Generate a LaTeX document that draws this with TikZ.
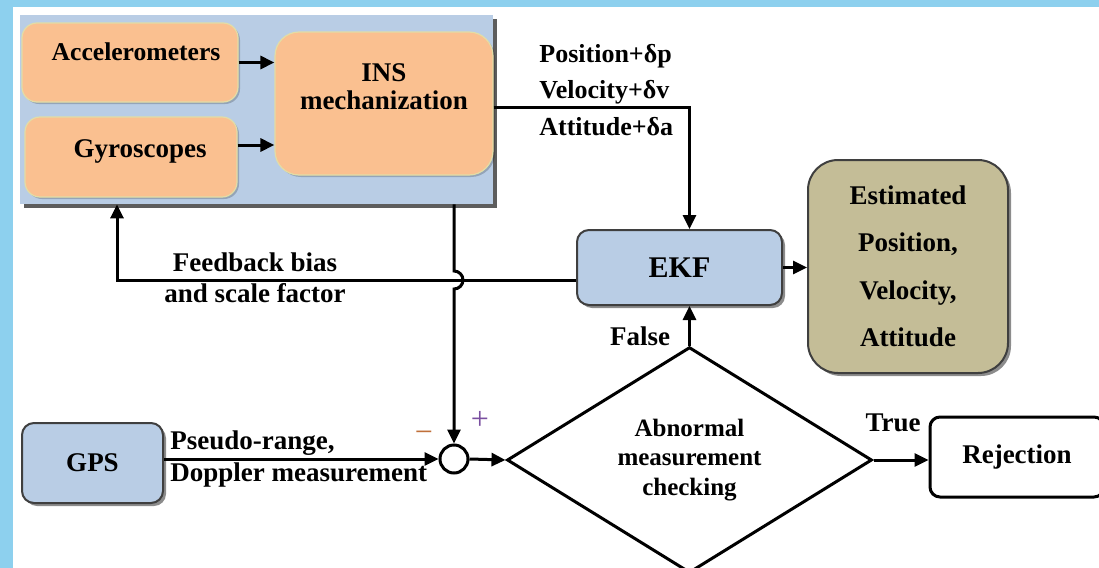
\documentclass[tikz,border=0pt]{standalone}
\usepackage{fontspec}
\setmainfont{Liberation Serif}[BoldFont={Liberation Serif Bold}]
\newfontfamily\tms{Liberation Serif}[BoldFont={Liberation Serif Bold}]
\usetikzlibrary{shapes.geometric,shadows,arrows.meta,calc}
\definecolor{bgblue}{HTML}{8DD0EE}
\definecolor{panelblue}{HTML}{B9CDE5}
\definecolor{boxorange}{HTML}{FAC090}
\definecolor{orangeedge}{HTML}{E2DDA6}
\definecolor{tanfill}{HTML}{C4BD97}
\definecolor{edgegray}{HTML}{3F3F3F}
\definecolor{minuscol}{HTML}{C0703A}
\definecolor{pluscol}{HTML}{7A4FA0}
\begin{document}
\begin{tikzpicture}[x=0.5pt,y=-0.5pt,
  txt/.style={font=\tms\fontsize{13.5}{16}\selectfont\bfseries, inner sep=0pt, text=black},
  dshadow/.style={drop shadow={shadow xshift=1.5pt,shadow yshift=-1.5pt,fill=black,opacity=0.45}},
  lshadow/.style={drop shadow={shadow xshift=1pt,shadow yshift=-1pt,fill=black,opacity=0.2}},
  panelbox/.style={fill=panelblue, draw=none, drop shadow={shadow xshift=2pt,shadow yshift=-2pt,fill=gray!60!black,opacity=0.9}},
  obox/.style={draw=orangeedge, line width=0.6pt, fill=boxorange, rounded corners=7.5pt, lshadow},
  bbox/.style={draw=edgegray, line width=1pt, fill=panelblue, rounded corners=6pt, dshadow},
  arr/.style={line width=1.5pt, -{Triangle[length=7pt,width=6.5pt]}},
]
\useasboundingbox (0,0) rectangle (1099,568);
\clip (0,0) rectangle (1099,568);
\fill[bgblue] (0,0) rectangle (1099,568);
\fill[white] (13,7) rectangle (1099,568);

% INS group
\node[panelbox, minimum width=236.5pt, minimum height=94.5pt] (panel) at (256.5,109.5) {};
\node[obox, minimum width=108pt, minimum height=39.5pt] (acc) at (130,62.5) {};
\node[txt, font=\tms\fontsize{12.8}{16}\selectfont\bfseries] (acctxt) at (136,52) {Accelerometers};
\node[obox, minimum width=106pt, minimum height=40pt] (gyro) at (131,157) {};
\node[txt] (gyrotxt) at (140,151) {Gyroscopes};
\node[obox, rounded corners=12pt, minimum width=109pt, minimum height=71.5pt] (ins) at (384,103.5) {};
\node[txt, align=center, font=\tms\fontsize{13.5}{14}\selectfont\bfseries] (instxt) at (384,87) {INS\\mechanization};

\node[txt, align=left, anchor=west, font=\tms\fontsize{13}{18.25}\selectfont\bfseries] (poslbl) at (539,90) {Position+δp\\Velocity+δv\\Attitude+δa};

% EKF and estimate
\node[bbox, minimum width=102.5pt, minimum height=37.5pt, font=\tms\fontsize{15}{16}\selectfont\bfseries] (ekf) at (679.5,267.5) {EKF};
\node[draw=edgegray, line width=1pt, fill=tanfill, rounded corners=15pt, dshadow, minimum width=100pt, minimum height=106.5pt, align=center, font=\tms\fontsize{13.5}{23.75}\selectfont\bfseries] (est) at (908,266.5) {Estimated\\Position,\\Velocity,\\Attitude};

% GPS, sum, diamond, rejection
\node[bbox, minimum width=70.5pt, minimum height=40pt, font=\tms\fontsize{13.5}{16}\selectfont\bfseries] (gps) at (92.5,463) {GPS};
\node[circle, draw, line width=1.5pt, fill=white, minimum size=14pt, inner sep=0pt] (sum) at (454,459) {};
\node[diamond, draw, line width=1.5pt, inner sep=0pt, minimum width=182.5pt, minimum height=103pt, align=center, font=\tms\fontsize{12.5}{14.75}\selectfont\bfseries] (diam) at (689.5,460) {Abnormal\\measurement\\checking};
\node[draw=black, line width=1.5pt, fill=white, rounded corners=5pt, minimum width=87pt, minimum height=40pt, font=\tms\fontsize{13.5}{16}\selectfont\bfseries] (rej) at (1017,457) {Rejection};

% labels
\node[txt, align=center, font=\tms\fontsize{13.5}{15.5}\selectfont\bfseries] (fbl) at (255,278) {Feedback bias\\and scale factor};
\node[txt, align=left, anchor=west, font=\tms\fontsize{13.5}{16}\selectfont\bfseries] (pdl) at (170,459) {Pseudo-range,\\Doppler measurement};
\node[txt, text=minuscol, font=\tms\fontsize{16}{18}\selectfont] (minus) at (424,437) {−};
\node[txt, text=pluscol, font=\tms\fontsize{16}{18}\selectfont] (plus) at (480,420) {+};
\node[txt] (falsel) at (640,336) {False};
\node[txt] (truel) at (893,423) {True};

% connectors
\draw[arr] (acc.east) -- (acc.east -| ins.west);
\draw[arr] ([yshift=6pt]gyro.east) -- ([yshift=6pt]gyro.east -| ins.west);
\draw[arr] ([yshift=-1.75pt]ins.east) -| (diam.north |- ekf.north);
\draw[arr] (ekf.east) -- (ekf.east -| est.west);
\coordinate (fbc) at (117,280);
\draw[arr] ([yshift=-6.25pt]ekf.west) -- (fbc) -- (fbc |- panel.south);
\coordinate (hop) at (sum.north |- fbc);
\draw[arr] (panel.south -| sum.north) -- ([yshift=4.5pt]hop) arc[start angle=90,end angle=-90,radius=4.5pt] -- (sum.north);
\draw[arr] (gps.east |- sum.west) -- (sum.west);
\draw[arr] (sum.east) -- (diam.west);
\draw[arr] (diam.north) -- (diam.north |- ekf.south);
\draw[arr] (diam.east) -- (diam.east -| rej.west);
\end{tikzpicture}
\end{document}
